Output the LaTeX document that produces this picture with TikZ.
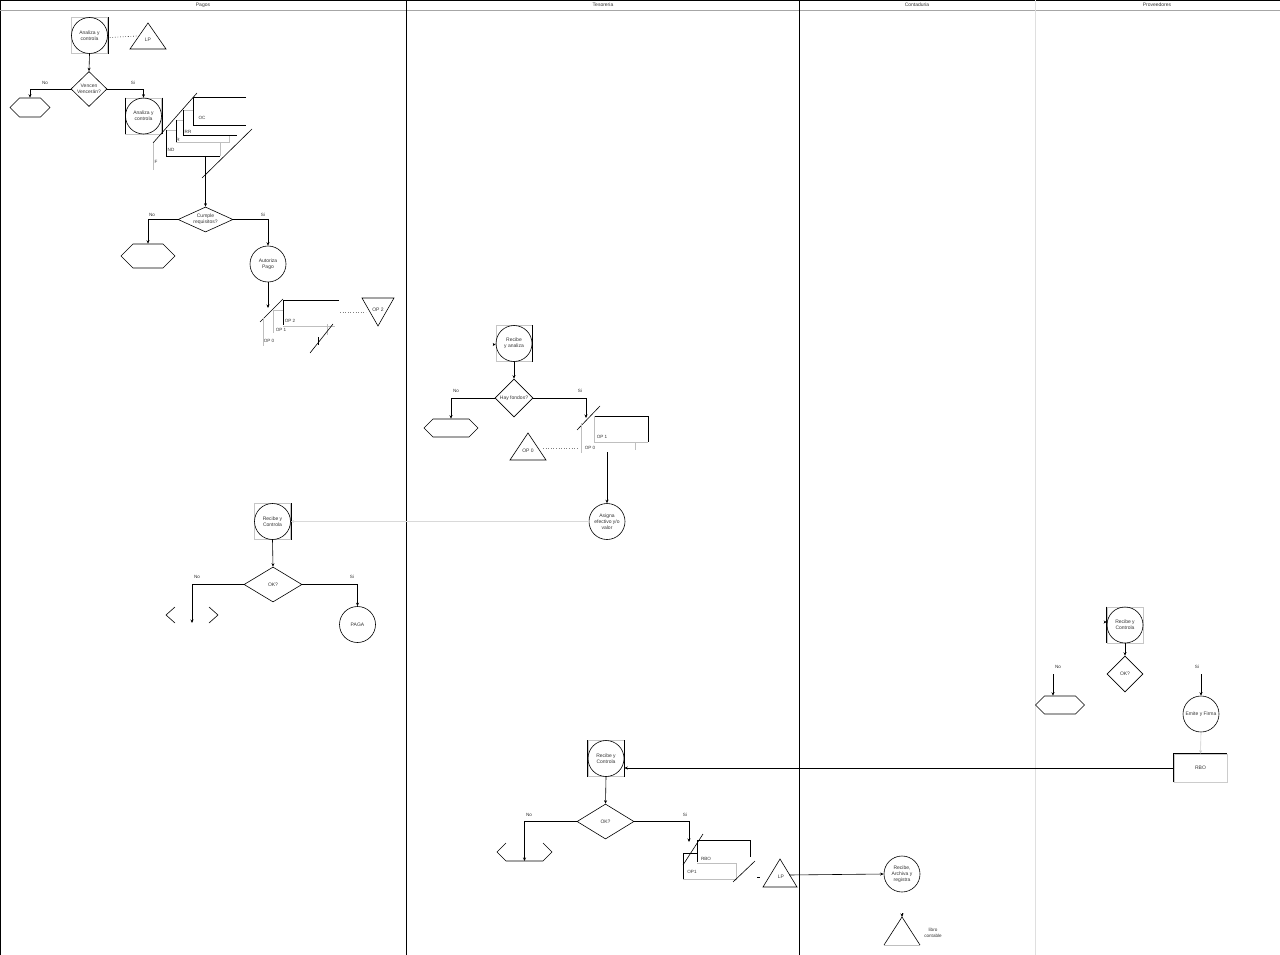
\documentclass[tikz,border=0pt]{standalone}
\usepackage{fontspec}
\setmainfont{Liberation Sans}
\usetikzlibrary{shapes.geometric,shapes.symbols,arrows.meta}
\begin{document}
\begin{tikzpicture}[x=1pt,y=-1pt,line width=0.6pt,
  every node/.style={font=\fontsize{5}{6.2}\selectfont,inner sep=0pt,align=center,text=black!80},
  proc/.style={circle,draw,minimum size=36pt},
  fr/.style={rectangle,draw=gray!45,minimum size=36pt},
  dec/.style={diamond,draw,minimum width=#1},
  hexa/.style={signal,signal to=west and east,draw,minimum width=#1},
  arr/.style={-{Stealth[length=3.5pt,width=3pt]}},
  lbl/.style={font=\fontsize{4.6}{5.6}\selectfont},
  hdr/.style={font=\fontsize{5}{6}\selectfont}]
\useasboundingbox (0,0) rectangle (1280,955);
% ---------------- lanes ----------------
\draw (0,0.5) -- (1280,0.5);
\draw (0.5,0) -- (0.5,955);
\draw[gray!70] (0,10) -- (1280,10);
\draw (406,0) -- (406,955);
\draw (799,0) -- (799,955);
\draw[gray!25] (1035,0) -- (1035,955);
\node[hdr] (hp) at (203,5) {Pagos};
\node[hdr] (ht) at (603,5) {Tesoreria};
\node[hdr] (hc) at (917,5) {Contaduria};
\node[hdr] (hv) at (1157,5) {Proveedores};
% ---------------- Pagos ----------------
\node[fr] (f1) at (89.5,35.5) {};
\draw (f1.north east) -- (f1.south east);
\node[proc] (a1) at (89.5,35.5) {Analiza y\\controla};
\draw (148,23) -- (130,49) -- (166,49) -- cycle;
\node (lp1) at (148,40) {LP};
\coordinate (lp1w) at (137,36);
\draw[dotted] (a1.east) ++(2,2) -- (lp1w);
\node[dec=36pt,minimum height=35pt,label={center:Vencen\\Vencerán?}] (d1) at (89,89) {};
\draw[arr] (a1.south) -- (d1.north);
\node[hexa=40pt,minimum height=19pt] (h1) at (30,107.5) {};
\draw[arr] (d1.west) -| (h1.north);
\node[lbl] (n1) at (45,83) {No};
\node[fr] (f2) at (143.5,116) {};
\draw (f2.north east) -- (f2.south east);
\draw (f2.north west) -- (f2.south west);
\node[proc] (a2) at (143.5,116) {Analiza y\\controla};
\draw[arr] (d1.east) -| (f2.north);
\node[lbl] (s1) at (133,83) {Si};
% document stack 1
\draw (153,143) -- (197,93);
\draw (202,178) -- (252,129);
\draw (246,97.5) -- (193,97.5) -- (193,125) -- (246,125);
\node[lbl] (oc) at (202,118) {OC};
\draw[gray!50] (183,110) -- (193,110);
\draw (183,110) -- (183,135.5) -- (237,135.5);
\node[lbl] (rr) at (188,132) {RR};
\draw[gray!50] (176,120) -- (183,120);
\draw (176,120) -- (176,142);
\draw[gray!50] (176,142) -- (229,142) -- (229,136);
\node[lbl] (r) at (178,140) {R};
\draw[gray!50] (166,130) -- (176,130);
\draw (166,130) -- (166,156) -- (220,156);
\draw[gray!50] (220,156) -- (220,142);
\node[lbl] (nd) at (171,150) {ND};
\draw[gray!50] (153,143) -- (153,170);
\node[lbl] (ff) at (156,162) {F};
\coordinate (st1) at (205.5,156);
\node[dec=55pt,minimum height=25pt,label={center:Cumple\\requisitos?}] (d2) at (205.5,219.5) {};
\draw[arr] (st1) -- (d2.north);
\node[hexa=54pt,minimum height=24pt] (h2) at (148,256) {};
\draw[arr] (d2.west) -| (h2.north);
\node[lbl] (n2) at (152,215) {No};
\node[proc] (a3) at (268,264) {Autoriza\\Pago};
\draw[arr] (d2.east) -| (a3.north);
\node[lbl] (s2) at (263,215) {Si};
% OP stack 1
\coordinate (st2) at (268,308);
\draw[arr] (a3.south) -- (st2);
\draw (260,322) -- (283,299);
\draw (339,300) -- (283,300) -- (283,325);
\node[lbl] (op2) at (290,321) {OP 2};
\draw[gray!50] (273,310) -- (283,310);
\draw[gray!50] (273,310) -- (273,333);
\draw[gray!50] (283,326) -- (335,326);
\draw[gray!50] (327,324) -- (327,335);
\node[lbl] (op1) at (281,329.5) {OP 1};
\draw[gray!50] (263,318) -- (263,346);
\draw (318,337) -- (318,345);
\node[lbl] (op0) at (269,341) {OP 0};
\draw (310,353) -- (333,324);
\coordinate (tr2w) at (366,312);
\draw[dotted,gray] (340,312) -- (tr2w);
\draw (362,298) -- (394,298) -- (378,326) -- cycle;
\node (t2) at (378,310) {OP 2};
% lower Pagos
\node[fr] (f3) at (272.5,521.5) {};
\draw (f3.north east) -- (f3.south east);
\node[proc] (a4) at (272.5,521.5) {Recibe y\\Controla};
\node[dec=58pt,minimum height=35pt,label={center:OK?}] (d3) at (273,584.5) {};
\draw[arr] (a4.south) -- (d3.north);
\coordinate (h3) at (192,615);
\draw (175,607) -- (166,615) -- (175,623);
\draw (209,607) -- (218,615) -- (209,623);
\draw[arr] (d3.west) -| ([yshift=-8pt]h3);
\node[lbl] (n3) at (197,577) {No};
\node[proc] (a5) at (357.5,624.5) {PAGA};
\draw[arr] (d3.east) -| (a5.north);
\node[lbl] (s3) at (352,577) {Si};
% ---------------- Tesoreria ----------------
\node[fr] (f4) at (514,343.5) {};
\draw (f4.north east) -- (f4.south east);
\coordinate (in4) at (490,344.5);
\draw[-{Stealth[length=3pt,width=3pt]}] (493,344.5) -- (f4.west |- in4);
\node[proc] (a6) at (514,343.5) {Recibe\\y analiza};
\node[dec=38pt,minimum height=38pt,label={center:Hay fondos?}] (d4) at (514,398) {};
\draw[arr] (a6.south) -- (d4.north);
\node[hexa=54pt,minimum height=18pt] (h4) at (451,428) {};
\draw[arr] (d4.west) -| (h4.north);
\node[lbl] (n4) at (456,391) {No};
\coordinate (st3) at (586,418);
\draw[arr] (d4.east) -| (st3);
\node[lbl] (s4) at (580,391) {Si};
\draw (577,430) -- (600,406);
\draw (594,416) -- (648,416) -- (648,442);
\draw[gray!50] (594,416) -- (594,442) -- (648,442);
\node[lbl] (op1b) at (602,437) {OP 1};
\draw[gray!50] (581,423) -- (581,453);
\draw[gray!50] (635,442) -- (635,450);
\node[lbl] (op0b) at (590,448) {OP 0};
\draw (528,433) -- (510,460) -- (546,460) -- cycle;
\node (t0) at (528,451) {OP 0};
\coordinate (t0e) at (543,448);
\draw[dotted,gray] (t0e) -- (577,448);
\coordinate (st4) at (607,452);
\node[proc] (a7) at (607,521.5) {Asigna\\efectivo y/o\\valor};
\draw[arr,line width=0.9pt] (st4) -- (a7.north);
\draw[arr,gray!30] (a7.west) -- (f3.east);
% lower Tesoreria
\node[fr] (f5) at (606,758.5) {};
\draw (f5.north east) -- (f5.south east);
\draw (f5.north west) -- (f5.south west);
\node[proc] (a8) at (606,758.5) {Recibe y\\Controla};
\node[dec=57pt,minimum height=35pt,label={center:OK?}] (d5) at (605.5,821.5) {};
\draw[arr] (a8.south) -- (d5.north);
\coordinate (h5) at (524.5,852);
\draw (506,843) -- (497,852) -- (506,861) -- (543,861) -- (552,852) -- (543,843);
\draw[arr] (d5.west) -| ([yshift=-9pt]h5);
\node[lbl] (n5) at (529,815) {No};
\coordinate (st5) at (689,842);
\draw[arr] (d5.east) -| (st5);
\node[lbl] (s5) at (685,815) {Si};
\draw (683,865) -- (703,834);
\draw (697,862) -- (697,840) -- (750,840) -- (750,857);
\draw[gray!50] (697,863) -- (736,863);
\node[lbl] (rbo2) at (706,859) {RBO};
\draw (697,853) -- (683,853) -- (683,879);
\draw[gray!50] (683,879) -- (736,879) -- (736,863);
\node[lbl] (op1c) at (692,872) {OP1};
\draw (733,882) -- (755,861);
\draw (757,877) -- (760,877);
\draw (780,859) -- (763,887) -- (797,887) -- cycle;
\node (lp2) at (781,877) {LP};
\coordinate (lp2e) at (789,875);
% ---------------- Contaduria ----------------
\node[proc] (a9) at (902,874) {Recibe,\\Archiva y\\registra};
\draw[arr] (lp2e) -- (a9.west);
\draw (884,945) -- (902,917) -- (920,945);
\draw[gray!50] (884,945) -- (920,945);
\coordinate (lb) at (902,917);
\draw[arr] (902,913) -- (lb);
\node[lbl] (libro) at (933,933) {libro\\contable};
% ---------------- Proveedores ----------------
\node[fr] (f6) at (1125,625) {};
\draw (f6.north west) -- (f6.south west);
\coordinate (in6) at (1102,622);
\draw[-{Stealth[length=3pt,width=3pt]}] (1104,622) -- (f6.west |- in6);
\node[proc] (a10) at (1125,625) {Recibe y\\Controla};
\node[dec=36pt,minimum height=36pt,label={center:OK?}] (d6) at (1125,674) {};
\draw[arr] (a10.south) -- (d6.north);
\node[lbl] (n6) at (1058,667) {No};
\coordinate (no6) at (1053,674);
\node[hexa=49pt,minimum height=18pt] (h6) at (1060,705) {};
\draw[arr] (no6) -- (no6 |- h6.north);
\node[lbl] (s6) at (1197,667) {Si};
\coordinate (si6) at (1201,674);
\node[proc] (a11) at (1201,714) {Emite y Firma};
\draw[arr] (si6) -- (a11.north);
\node[draw=gray!40,minimum width=53pt,minimum height=28pt] (rbo) at (1200.5,768) {RBO};
\draw (rbo.south west) -- (rbo.north west) -- (rbo.north east);
\draw[arr,gray!40] (a11.south) -- (rbo.north);
\draw[arr] (rbo.west) -- (rbo.west -| f5.east);
\end{tikzpicture}
\end{document}
